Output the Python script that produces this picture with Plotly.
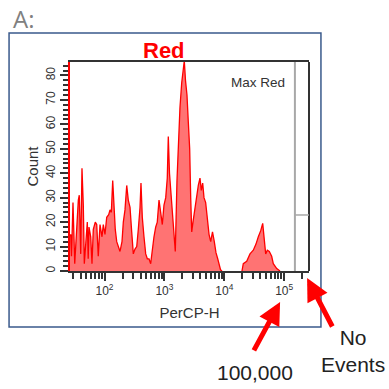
import plotly.graph_objects as go
import numpy as np

# ---- data ----
# log10 of PerCP-H bin positions and event counts, main population
main_log_percp = [1.424, 1.436, 1.449, 1.474, 1.503, 1.536, 1.563, 1.579, 1.603, 1.624, 1.646,
                  1.663, 1.686, 1.713, 1.728, 1.741, 1.770, 1.791, 1.813, 1.846, 1.870, 1.896,
                  1.925, 1.958, 1.980, 2.008, 2.037, 2.070, 2.092, 2.114, 2.137, 2.159, 2.180,
                  2.204, 2.237, 2.259, 2.292, 2.314, 2.342, 2.371, 2.397, 2.426, 2.454, 2.481,
                  2.509, 2.538, 2.564, 2.593, 2.609, 2.631, 2.659, 2.688, 2.715, 2.743, 2.771,
                  2.798, 2.826, 2.855, 2.881, 2.910, 2.938, 2.965, 2.993, 3.022, 3.048, 3.065,
                  3.085, 3.110, 3.135, 3.160, 3.182, 3.210, 3.232, 3.260, 3.289, 3.316, 3.332,
                  3.352, 3.377, 3.399, 3.422, 3.439, 3.456, 3.477, 3.511, 3.539, 3.566, 3.594,
                  3.616, 3.639, 3.661, 3.689, 3.716, 3.745, 3.773, 3.803, 3.833, 3.861, 3.890,
                  3.917, 3.937, 3.962]
main_count = [14, 15, 6, 28, 3, 20, 29, 31, 7, 42, 27,
              3, 13, 20, 5, 18, 14, 3, 17, 20, 19, 6,
              19, 14, 19, 15, 22, 23, 25, 24, 37, 25, 17,
              12, 10, 8, 12, 20, 25, 35, 29, 26, 16, 7,
              9, 10, 17, 26, 36, 22, 14, 7, 5, 5, 3,
              9, 14, 18, 20, 29, 24, 19, 27, 30, 38, 55,
              40, 32, 25, 14, 8, 37, 53, 67, 77, 84, 86,
              78, 72, 61, 50, 30, 16, 20, 26, 31, 35, 38,
              33, 36, 30, 28, 21, 15, 12, 16, 12, 7.5, 5,
              2, 0.5, 0]
# second (bright) population
high_log_percp = [4.295, 4.317, 4.374, 4.429, 4.484, 4.529, 4.568, 4.608, 4.641, 4.663,
                  4.691, 4.718, 4.751, 4.791, 4.818, 4.875, 4.930]
high_count = [0, 3, 4, 7, 8.5, 11, 14, 16.5, 19.5, 14,
              7, 8.5, 8, 6, 3, 1, 0]

major_ticks = [1e2, 1e3, 1e4, 1e5]
major_text = ["10<sup>2</sup>", "10<sup>3</sup>", "10<sup>4</sup>", "10<sup>5</sup>"]
minor_ticks = [m * d for d in [10, 100, 1000, 10000] for m in range(2, 10)] + [2e5]
minor_ticks = [v for v in minor_ticks if v > 26]
x_range_log = [1.424, 5.414]
y_max = 85.5

RED = "#ff0000"
FILL = "rgba(255,0,0,0.55)"
FONT = "Arial, Liberation Sans, sans-serif"

fig = go.Figure()
for xs, ys in [(main_log_percp, main_count), (high_log_percp, high_count)]:
    fig.add_trace(go.Scatter(
        x=10 ** np.array(xs), y=ys, mode="lines", fill="tozeroy",
        fillcolor=FILL, line=dict(color=RED, width=1.3), hoverinfo="skip",
        showlegend=False))

fig.update_layout(
    width=389, height=389,
    margin=dict(l=70, r=80, t=62, b=118),
    paper_bgcolor="white", plot_bgcolor="white",
    font=dict(family=FONT, color="#333333"),
    xaxis=dict(
        type="log", range=x_range_log, showgrid=False, zeroline=False,
        showline=True, linecolor="#333333", linewidth=2, mirror=True,
        tickmode="array", tickvals=major_ticks, ticktext=major_text,
        ticks="outside", ticklen=8, tickwidth=1.5, tickcolor="#333333",
        tickfont=dict(size=12, color="#333333"),
        minor=dict(tickmode="array", tickvals=minor_ticks, ticks="outside",
                   ticklen=6, tickwidth=1.5, tickcolor="#333333"),
        title=dict(text="PerCP-H", font=dict(size=15, color="#333333"), standoff=10),
    ),
    yaxis=dict(
        range=[0, y_max], showgrid=False, zeroline=False,
        showline=True, linecolor=RED, linewidth=2,
        tickmode="linear", tick0=0, dtick=10,
        ticks="outside", ticklen=8, tickwidth=1.5, tickcolor="#333333",
        tickangle=-90, tickfont=dict(size=12, color="#333333"),
        minor=dict(dtick=2, ticks="outside", ticklen=5, tickwidth=1.5, tickcolor="#333333"),
        title=dict(text="Count", font=dict(size=15, color="#333333"), standoff=2),
    ),
)

# frame (right side), gate line and outer panel border
shapes = [
    dict(type="line", xref="paper", yref="paper", x0=1, x1=1, y0=0, y1=1,
         line=dict(color="#333333", width=2)),
    dict(type="line", xref="paper", yref="paper", x0=0.941, x1=0.941, y0=0, y1=1,
         line=dict(color="#a8a8a8", width=2)),
    dict(type="line", xref="paper", yref="paper", x0=0.941, x1=1, y0=0.268, y1=0.268,
         line=dict(color="#a8a8a8", width=1.5)),
    dict(type="rect", xref="paper", yref="paper", x0=-0.255, x1=1.050, y0=-0.268, y1=1.139,
         line=dict(color="#3a5a8c", width=1.5)),
]
fig.update_layout(shapes=shapes)

def txt(text, x, y, size, color, family=FONT, xanchor="center"):
    return dict(text=text, x=x, y=y, xref="paper", yref="paper", xanchor=xanchor,
                yanchor="middle", showarrow=False,
                font=dict(size=size, color=color, family=family))

ann = [
    txt("<b>Red</b>", 0.393, 1.057, 22, RED),
    txt("Max Red", 0.908, 0.904, 13.5, "#333333", xanchor="right"),
    txt("A:", -0.245, 1.206, 24, "#808080", family="Open Sans, sans-serif", xanchor="left"),
    txt("100,000", 0.774, -0.488, 21, "#222222"),
    txt("No<br>Events", 1.184, -0.385, 21, "#222222"),
    dict(text="", x=0.879, y=-0.148, xref="paper", yref="paper", showarrow=True,
         ax=-27, ay=50, arrowhead=2, arrowsize=0.9, arrowwidth=5, arrowcolor=RED, standoff=0),
    dict(text="", x=0.992, y=-0.0335, xref="paper", yref="paper", showarrow=True,
         ax=26, ay=50, arrowhead=2, arrowsize=0.9, arrowwidth=5, arrowcolor=RED, standoff=0),
]
fig.update_layout(annotations=ann)

fig.write_html("out.html")
